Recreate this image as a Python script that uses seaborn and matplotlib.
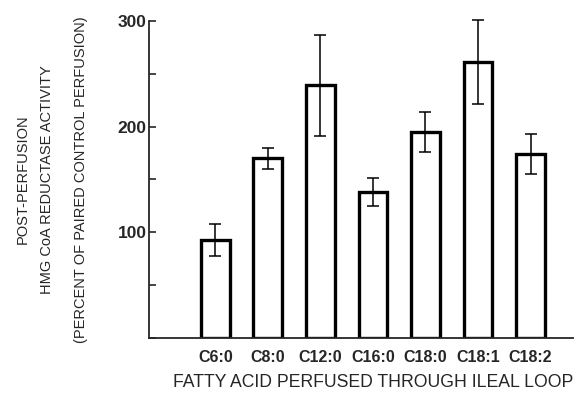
import matplotlib
matplotlib.use("Agg")
import matplotlib.pyplot as plt
from matplotlib.ticker import MultipleLocator
import seaborn as sns
import pandas as pd

# values
acids = ["C6:0", "C8:0", "C12:0", "C16:0", "C18:0", "C18:1", "C18:2"]
activity = [93, 170, 239, 138, 195, 261, 174]
sem = [15, 10, 48, 13, 19, 40, 19]
ylabel_lines = ["POST-PERFUSION", "HMG CoA REDUCTASE ACTIVITY",
                "(PERCENT OF PAIRED CONTROL PERFUSION)"]

sns.set_style("ticks")
plt.rcParams["font.family"] = ["Liberation Sans", "DejaVu Sans"]

df = pd.DataFrame({"acid": acids, "activity": activity})

fig = plt.figure(figsize=(5.76, 3.93), dpi=100)
ax = fig.add_axes([0.259, 0.14, 0.735, 0.807])

sns.barplot(data=df, x="acid", y="activity", color="white", edgecolor="black",
            linewidth=2.4, width=0.55, errorbar=None, saturation=1, ax=ax)
ax.errorbar(range(len(acids)), activity, yerr=sem, fmt="none", ecolor="black",
            elinewidth=1.1, capsize=4, capthick=1.1, zorder=5, clip_on=False)

ax.set_xlim(-1.26, 6.8)
ax.set_ylim(0, 300)
ax.set_yticks([100, 200, 300])
ax.yaxis.set_minor_locator(MultipleLocator(50))
ax.tick_params(axis="y", which="both", direction="in", length=5, width=1.2,
               labelsize=12.5, pad=2)
ax.tick_params(axis="x", length=0, labelsize=11.5, pad=9)
for t in ax.get_yticklabels() + ax.get_xticklabels():
    t.set_fontweight("bold")

sns.despine(ax=ax)
ax.spines["left"].set_linewidth(1.3)
ax.spines["bottom"].set_linewidth(1.3)

ax.set_xlabel("FATTY ACID PERFUSED THROUGH ILEAL LOOP", fontsize=12.7)
ax.xaxis.set_label_coords(0.528, -0.112)
ax.set_ylabel("")

# three stacked y-label lines, placed like the original
for xpos, line in zip([0.040, 0.082, 0.140], ylabel_lines):
    fig.text(xpos, 0.543, line, rotation=90, ha="center", va="center", fontsize=10.5)

fig.savefig("out.png", dpi=100)
